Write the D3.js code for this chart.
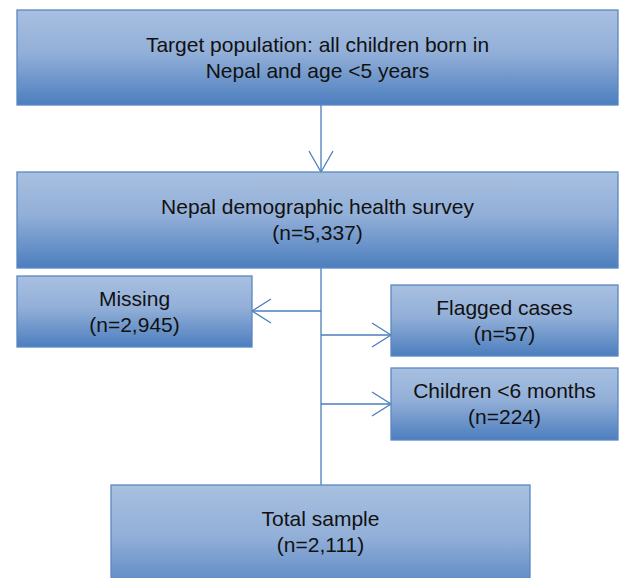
<!DOCTYPE html>
<html>
<head>
<meta charset="utf-8">
<script src="https://cdn.jsdelivr.net/npm/d3@7"></script>
<style>
  body { margin: 0; background: #fff; }
  svg { display: block; }
</style>
</head>
<body>
<svg id="chart" width="620" height="578"></svg>
<script>
// flow chart steps, top to bottom
const stepIds = ["target", "survey", "missing", "flagged", "young", "total"];
const stepTitles = [
  "Target population: all children born in",
  "Nepal demographic health survey",
  "Missing",
  "Flagged cases",
  "Children <6 months",
  "Total sample"
];
const stepSubtitles = ["Nepal and age <5 years", null, null, null, null, null];
const stepCounts = [null, 5337, 2945, 57, 224, 2111];

const w = 620, h = 578;
const svg = d3.select("#chart");
const fmt = d3.format(",");

// box layout (pixel frame of the drawing)
const layout = {
  target:  { x0: 17,  x1: 618, y0: 10,  y1: 105 },
  survey:  { x0: 17,  x1: 618, y0: 172, y1: 268 },
  missing: { x0: 17,  x1: 252, y0: 276, y1: 347 },
  flagged: { x0: 391, x1: 618, y0: 285, y1: 356 },
  young:   { x0: 391, x1: 618, y0: 368, y1: 440 },
  total:   { x0: 111, x1: 530, y0: 485, y1: 600 }
};
const spineX = 321;
const branchY = { missing: 311, flagged: 335, young: 404 };

const grad = svg.append("defs")
  .append("linearGradient")
  .attr("id", "boxFill")
  .attr("x1", 0).attr("y1", 0).attr("x2", 0).attr("y2", 1);
grad.append("stop").attr("offset", "0%").attr("stop-color", "#a8c0e0");
grad.append("stop").attr("offset", "45%").attr("stop-color", "#92afd8");
grad.append("stop").attr("offset", "100%").attr("stop-color", "#4c7ebe");

const steps = stepIds.map((id, i) => ({
  id: id,
  lines: [stepTitles[i]]
    .concat(stepSubtitles[i] ? [stepSubtitles[i]] : [])
    .concat(stepCounts[i] != null ? ["(n=" + fmt(stepCounts[i]) + ")"] : []),
  box: layout[id]
}));

const lineColor = "#4a7ebb";

// connector lines
const links = svg.append("g")
  .attr("fill", "none")
  .attr("stroke", lineColor)
  .attr("stroke-width", 1.3);

links.append("line")
  .attr("x1", spineX).attr("x2", spineX)
  .attr("y1", layout.target.y1).attr("y2", layout.survey.y0);
links.append("line")
  .attr("x1", spineX).attr("x2", spineX)
  .attr("y1", layout.survey.y1).attr("y2", layout.total.y0);

function arrowHead(x, y, dx, dy) {
  // open V head, tip at (x, y)
  return d3.line()([[x + dx[0], y + dy[0]], [x, y], [x + dx[1], y + dy[1]]]);
}

links.append("path")
  .attr("d", arrowHead(spineX, layout.survey.y0, [-12, 12], [-21, -21]));

["missing", "flagged", "young"].forEach(id => {
  const b = layout[id];
  const y = branchY[id];
  const tipX = b.x1 < spineX ? b.x1 : b.x0;
  const dir = b.x1 < spineX ? 1 : -1;
  links.append("line")
    .attr("x1", spineX).attr("x2", tipX)
    .attr("y1", y).attr("y2", y);
  links.append("path")
    .attr("d", arrowHead(tipX, y, [dir * 19, dir * 19], [-12, 12]));
});

// boxes
const node = svg.append("g")
  .selectAll("g")
  .data(steps)
  .join("g");

node.append("rect")
  .attr("x", d => d.box.x0)
  .attr("y", d => d.box.y0)
  .attr("width", d => d.box.x1 - d.box.x0)
  .attr("height", d => d.box.y1 - d.box.y0)
  .attr("fill", "url(#boxFill)")
  .attr("stroke", "#5a88c2")
  .attr("stroke-width", 1.3);

node.append("text")
  .attr("text-anchor", "middle")
  .attr("font-family", "Liberation Sans, Arial, sans-serif")
  .attr("font-size", "21px")
  .attr("fill", "#111")
  .each(function (d) {
    const n = d.lines.length;
    const lh = 26;
    const cy = d.id === "total" ? 532 : (d.box.y0 + d.box.y1) / 2;
    d3.select(this)
      .selectAll("tspan")
      .data(d.lines)
      .join("tspan")
      .attr("x", (d.box.x0 + d.box.x1) / 2)
      .attr("y", (l, i) => cy + (i - (n - 1) / 2) * lh + 7)
      .text(l => l);
  });
</script>
</body>
</html>
